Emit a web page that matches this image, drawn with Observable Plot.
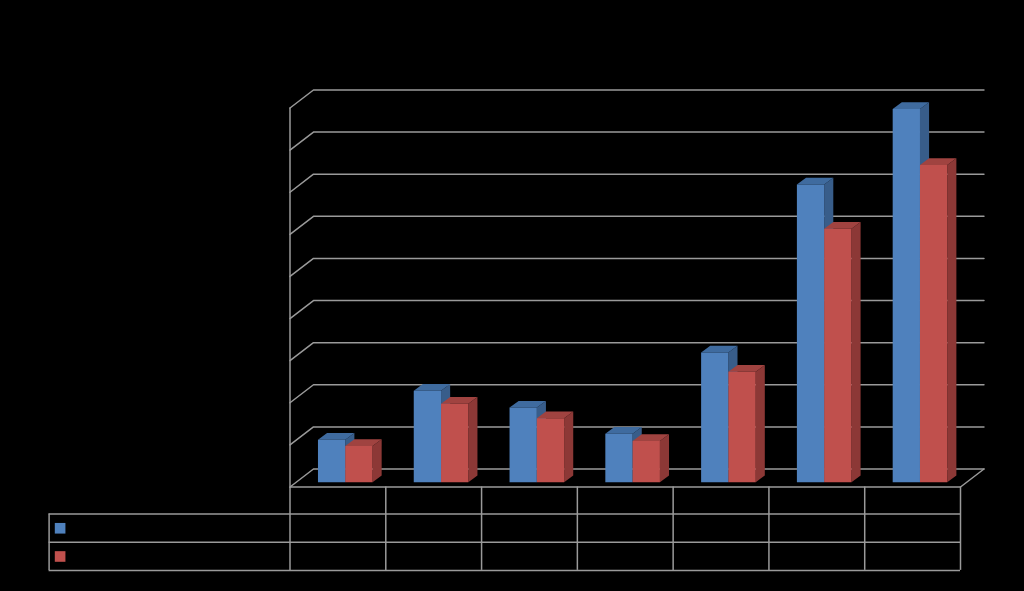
<!DOCTYPE html>
<html>
<head>
<meta charset="utf-8">
<style>html,body{margin:0;padding:0;background:#000;overflow:hidden}svg{display:block}</style>
<script src="https://cdn.jsdelivr.net/npm/d3@7"></script>
<script src="https://cdn.jsdelivr.net/npm/@observablehq/plot@0.6"></script>
</head>
<body>
<div id="chart"></div>
<script>
// The labels in the source are black on black, so only the values can be read.
const categories = [0, 1, 2, 3, 4, 5, 6];
const blueValues = [1.01, 2.17, 1.77, 1.15, 3.08, 7.07, 8.86];
const redValues  = [0.86, 1.86, 1.52, 0.98, 2.62, 6.02, 7.53];
const gridLevels = [0, 1, 2, 3, 4, 5, 6, 7, 8, 9];
const tableColumns = [0, 1, 2, 3, 4, 5, 6, 7];
const tableRows = [-0.64, -1.31, -1.98];
const tableLeft = -2.515;
const legendRowsY = [-0.98, -1.65];
const legendX = -2.4;

const wall = {x: 0.245, y: 0.4275};      // depth of the chart box
const barDepth = {x: 0.095, y: 0.16};    // depth of a bar
const barStart = {x: 0.292, y: 0.115};   // where a bar's front face sits
const barWidth = 0.285;

const gridColor = "#9a9a9a";
const blue = {front: "#4f81bd", top: "#3f6b9f", side: "#385d8a"};
const red = {front: "#c0504d", top: "#a04340", side: "#8c3836"};

function faces(values, slot) {
  const front = [], top = [], side = [];
  values.forEach((v, i) => {
    const x0 = categories[i] + barStart.x + slot * barWidth, x1 = x0 + barWidth;
    const y0 = barStart.y, y1 = y0 + v;
    const dx = barDepth.x, dy = barDepth.y;
    [[x0, y0], [x1, y0], [x1, y1], [x0, y1]].forEach(([x, y]) => front.push({i, x, y}));
    [[x0, y1], [x1, y1], [x1 + dx, y1 + dy], [x0 + dx, y1 + dy]].forEach(([x, y]) => top.push({i, x, y}));
    [[x1, y0], [x1 + dx, y0 + dy], [x1 + dx, y1 + dy], [x1, y1]].forEach(([x, y]) => side.push({i, x, y}));
  });
  return {front, top, side};
}

const polygon = (data, fill) => Plot.line(data, {x: "x", y: "y", z: "i", fill, stroke: "none", curve: "linear"});
const seriesMarks = (f, c) => [polygon(f.side, c.side), polygon(f.top, c.top), polygon(f.front, c.front)];

const gridPaths = gridLevels.flatMap(k => [
  {k, x: 0, y: k},
  {k, x: wall.x, y: k + wall.y},
  {k, x: categories.length + wall.x, y: k + wall.y}
]);
const floorFront = [
  {x: 0, y: 0},
  {x: categories.length, y: 0},
  {x: categories.length + wall.x, y: wall.y}
];

const chart = Plot.plot({
  width: 1024,
  height: 591,
  margin: 0,
  style: {background: "#000"},
  x: {type: "linear", domain: [0, 7], range: [289.5, 960], axis: null},
  y: {type: "linear", domain: [0, 9], range: [486.5, 107.5], axis: null},
  marks: [
    Plot.line(gridPaths, {x: "x", y: "y", z: "k", stroke: gridColor, strokeWidth: 1.5}),
    Plot.line(floorFront, {x: "x", y: "y", stroke: gridColor, strokeWidth: 1.5}),
    Plot.ruleX([0], {y1: 0, y2: 9, stroke: gridColor, strokeWidth: 1.5}),
    Plot.ruleX(tableColumns, {y1: 0, y2: tableRows[2], stroke: gridColor, strokeWidth: 1.5}),
    Plot.ruleX([tableLeft], {y1: tableRows[0], y2: tableRows[2], stroke: gridColor, strokeWidth: 1.5}),
    Plot.ruleY(tableRows, {x1: tableLeft, x2: 7, stroke: gridColor, strokeWidth: 1.5}),
    ...seriesMarks(faces(blueValues, 0), blue),
    ...seriesMarks(faces(redValues, 1), red),
    Plot.dot([legendRowsY[0]], {x: legendX, y: d => d, symbol: "square", r: 6, fill: blue.front, stroke: "none"}),
    Plot.dot([legendRowsY[1]], {x: legendX, y: d => d, symbol: "square", r: 6, fill: red.front, stroke: "none"})
  ]
});
document.getElementById("chart").appendChild(chart);
</script>
</body>
</html>
